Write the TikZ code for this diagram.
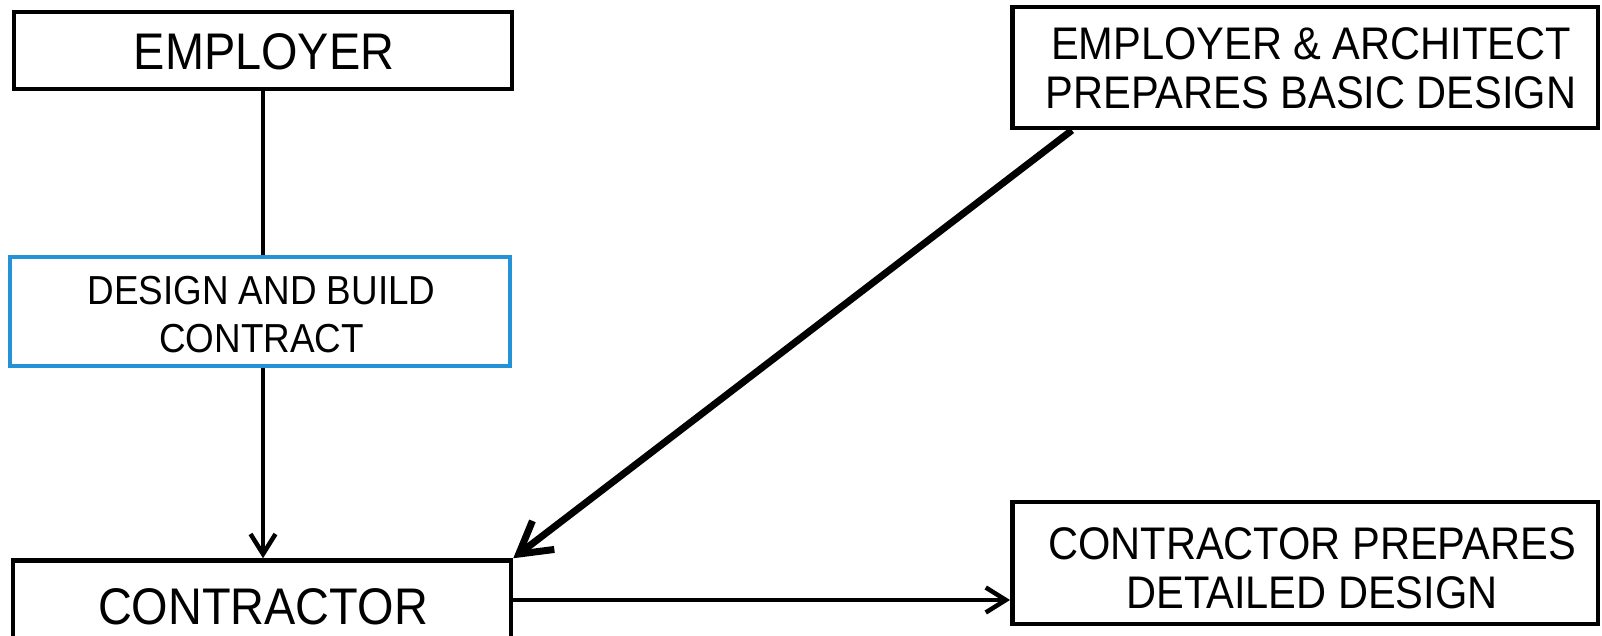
\documentclass[tikz,border=0pt]{standalone}
\usepackage{fontspec}
\setmainfont{Liberation Sans}
% slightly condensed Arial-metric face for all box labels
\newfontfamily\labelfont[FakeStretch=0.91]{Liberation Sans}
\usetikzlibrary{arrows.meta,calc}
\definecolor{contractblue}{RGB}{36,146,214}

\begin{document}
\begin{tikzpicture}[x=1pt,y=-1pt,
  box/.style={draw=black, line width=4.5pt, inner sep=0pt, fill=white},
  bluebox/.style={box, draw=contractblue, line width=4pt},
  lbl/.style={inner sep=0pt, align=center, text=black},
  bigtext/.style={lbl, font=\labelfont\fontsize{51.5}{60}\selectfont},
  sidetext/.style={lbl, font=\labelfont\fontsize{45.7}{49.5}\selectfont},
  smalltext/.style={lbl, font=\labelfont\fontsize{40.5}{48}\selectfont},
  link/.style={line width=4.5pt,
    -{Straight Barb[length=20pt,width=25pt,line width=4.5pt]}},
  plainlink/.style={line width=4.5pt},
  heavylink/.style={line width=7pt,
    -{Straight Barb[length=31pt,width=36pt,line width=7pt]}}]

\useasboundingbox (0,0) rectangle (1602,636);
\clip (0,0) rectangle (1602,636);
\fill[white] (0,0) rectangle (1602,636);

% boxes
\node[box, minimum width=498pt, minimum height=77pt] (employer) at (263,50.5) {};
\node[bluebox, minimum width=500pt, minimum height=109pt] (design) at (259.5,311.5) {};
\node[box, minimum width=498pt, minimum height=79pt] (contractor) at (262,600) {};
\node[box, minimum width=585.5pt, minimum height=121pt] (ea) at (1305,67.5) {};
\node[box, minimum width=585.5pt, minimum height=122pt] (cpd) at (1305,563) {};

% labels
\node[bigtext] (employerText) at (264,51.5) {EMPLOYER};
\node[bigtext] (contractorText) at (263,606.5) {CONTRACTOR};
\node[smalltext] (designText) at (261.5,315) {DESIGN AND BUILD\\CONTRACT};
\node[sidetext] (eaText) at (1311,68.5) {EMPLOYER \& ARCHITECT\\PREPARES BASIC DESIGN};
\node[sidetext] (cpdText) at (1312,568.5) {CONTRACTOR PREPARES\\DETAILED DESIGN};

% connectors
\draw[plainlink] (employer.south) -- (employer.south |- design.north);
\draw[link] (employer.south |- design.south) -- (employer.south |- contractor.north);
\coordinate (eaFoot) at ($(ea.south west)!0.105!(ea.south east)$);
\draw[heavylink] (eaFoot) -- (contractor.north east);
\draw[link] (contractor.east) -- (contractor.east -| cpd.west);
\end{tikzpicture}
\end{document}
